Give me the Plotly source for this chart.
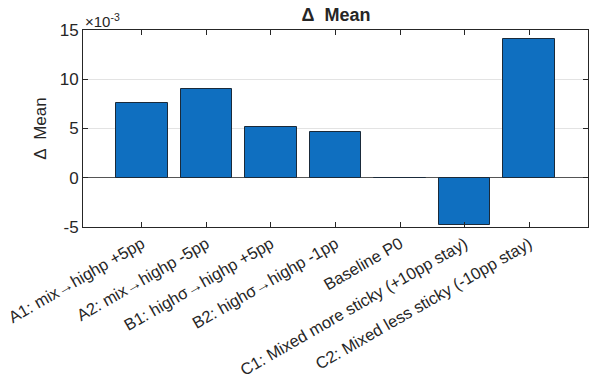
import plotly.graph_objects as go

categories = [
    "A1: mix→highp +5pp",
    "A2: mix→highp -5pp",
    "B1: highσ→highp +5pp",
    "B2: highσ→highp -1pp",
    "Baseline P0",
    "C1: Mixed more sticky (+10pp stay)",
    "C2: Mixed less sticky (-10pp stay)",
]
delta_mean = [0.00755, 0.00897, 0.00518, 0.00464, 0.0, -0.00483, 0.01408]
ytick_vals = [-0.005, 0, 0.005, 0.010, 0.015]
ytick_text = ["-5", "0", "5", "10", "15"]

fig = go.Figure()
fig.add_trace(go.Bar(
    x=list(range(len(categories))),
    y=delta_mean,
    width=0.8,
    marker=dict(color="#0f6fc0", line=dict(color="#1a2a3a", width=1)),
))

font = "Liberation Sans, Arial, sans-serif"
fig.update_layout(
    width=592, height=378,
    margin=dict(l=83, r=4, t=30, b=151),
    paper_bgcolor="white", plot_bgcolor="white",
    showlegend=False,
    font=dict(family=font, size=16, color="#262626"),
    title=dict(text="<b>Δ  Mean</b>", x=336 / 592, xanchor="center",
               xref="container", yref="container", y=1 - 15 / 378, yanchor="middle",
               font=dict(size=18, color="#262626")),
    bargap=0,
)
fig.update_xaxes(
    automargin=False,
    range=[-0.91, 6.91],
    tickmode="array", tickvals=list(range(len(categories))), ticktext=categories,
    tickangle=-30, ticks="inside", ticklen=5, tickcolor="#262626",
    ticklabeloverflow="allow",
    showline=True, linecolor="#262626", linewidth=1, mirror="ticks",
    showgrid=False, zeroline=False,
    tickfont=dict(size=16.5, color="#262626"),
)
fig.update_yaxes(
    automargin=False,
    range=[-0.005, 0.015],
    tickmode="array", tickvals=ytick_vals, ticktext=ytick_text,
    ticks="inside", ticklen=5, tickcolor="#262626",
    showline=True, linecolor="#262626", linewidth=1, mirror="ticks",
    showgrid=True, gridcolor="#e3e3e3", gridwidth=1,
    zeroline=True, zerolinecolor="#555555", zerolinewidth=1,
    title=dict(text="Δ  Mean", font=dict(size=17, color="#262626"), standoff=8),
    tickfont=dict(size=17, color="#262626"),
)
fig.add_annotation(
    text="×10<sup>-3</sup>", xref="paper", yref="paper", x=0.0, y=1.0,
    xanchor="left", yanchor="bottom", showarrow=False,
    font=dict(size=15, color="#262626"), yshift=-2,
)
fig.write_html("out.html", config={"displayModeBar": False},
               post_script="document.body.style.margin='0';")
